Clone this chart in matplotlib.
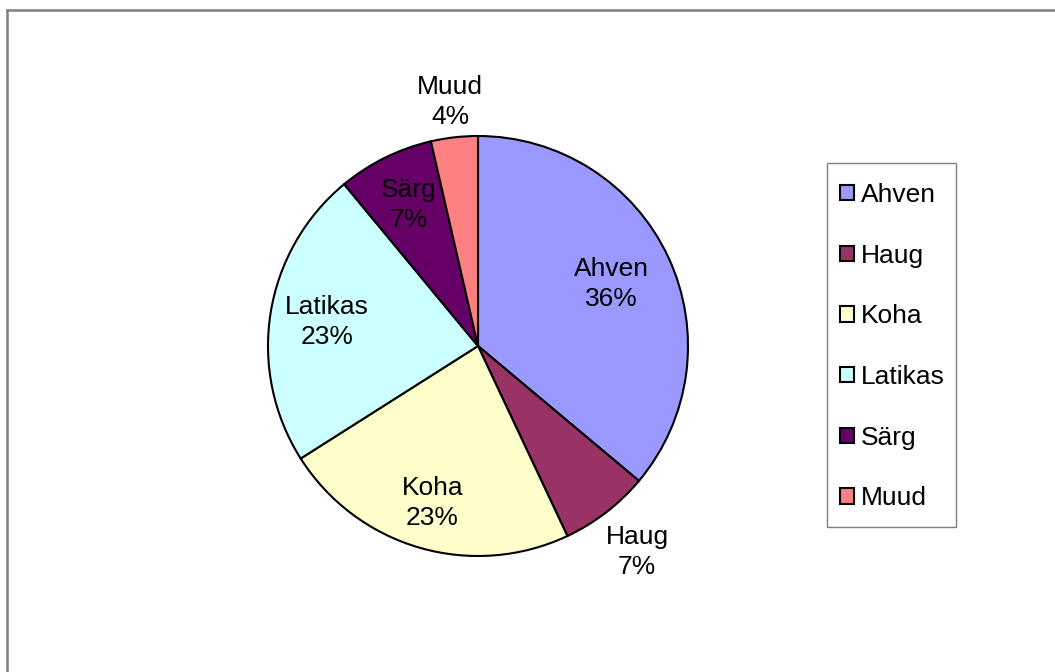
import matplotlib.pyplot as plt
from matplotlib.lines import Line2D
from matplotlib.patches import Rectangle
import numpy as np

plt.rcParams['font.family'] = ['Liberation Sans', 'DejaVu Sans']

species = ['Ahven', 'Haug', 'Koha', 'Latikas', 'Särg', 'Muud']
shares = [36.1, 6.9, 23.0, 23.0, 7.4, 3.6]
colors = ['#9999FF', '#993366', '#FFFFCC', '#CCFFFF', '#660066', '#FF8080']
# distance of each data label from the centre (fraction of radius)
label_r = [0.70, 1.24, 0.78, 0.73, 0.75, 1.17]

W, H = 1055, 672
fig = plt.figure(figsize=(W / 100, H / 100), dpi=100)

cx, cy, r = 478, 346, 210
ax = fig.add_axes([(cx - r) / W, (H - cy - r) / H, 2 * r / W, 2 * r / H])
wedges, _ = ax.pie(shares, colors=colors, startangle=90, counterclock=False,
                   wedgeprops=dict(edgecolor='black', linewidth=1.5))
ax.set_xlim(-1, 1)
ax.set_ylim(-1, 1)
ax.axis('off')

total = sum(shares)
start = 0
for name, val, lr in zip(species, shares, label_r):
    mid = (start + val / 2) / total * 2 * np.pi
    start += val
    x, y = lr * np.sin(mid), lr * np.cos(mid)
    ax.text(x, y, f'{name}\n{round(val):.0f}%', ha='center', va='center',
            fontsize=19, linespacing=1.3, clip_on=False)

# legend box drawn separately, entries placed inside it
fig.add_artist(Rectangle((827 / W, 1 - 527 / H), 129 / W, 364 / H,
                         transform=fig.transFigure, facecolor='white',
                         edgecolor='#808080', lw=1.0))
leg = fig.legend(wedges, species, loc='upper left',
                 bbox_to_anchor=(840 / W, 1 - 183 / H),
                 fontsize=19, frameon=False,
                 handlelength=0.53, handleheight=0.53,
                 handletextpad=0.27, labelspacing=1.39, borderpad=0,
                 borderaxespad=0)

# chart area border (top and left edges)
fig.add_artist(Line2D([7 / W, 1], [1 - 9.5 / H, 1 - 9.5 / H], color='#808080', lw=1.8))
fig.add_artist(Line2D([7 / W, 7 / W], [0, 1 - 9.5 / H], color='#808080', lw=1.8))

fig.savefig('out.png', dpi=100)
